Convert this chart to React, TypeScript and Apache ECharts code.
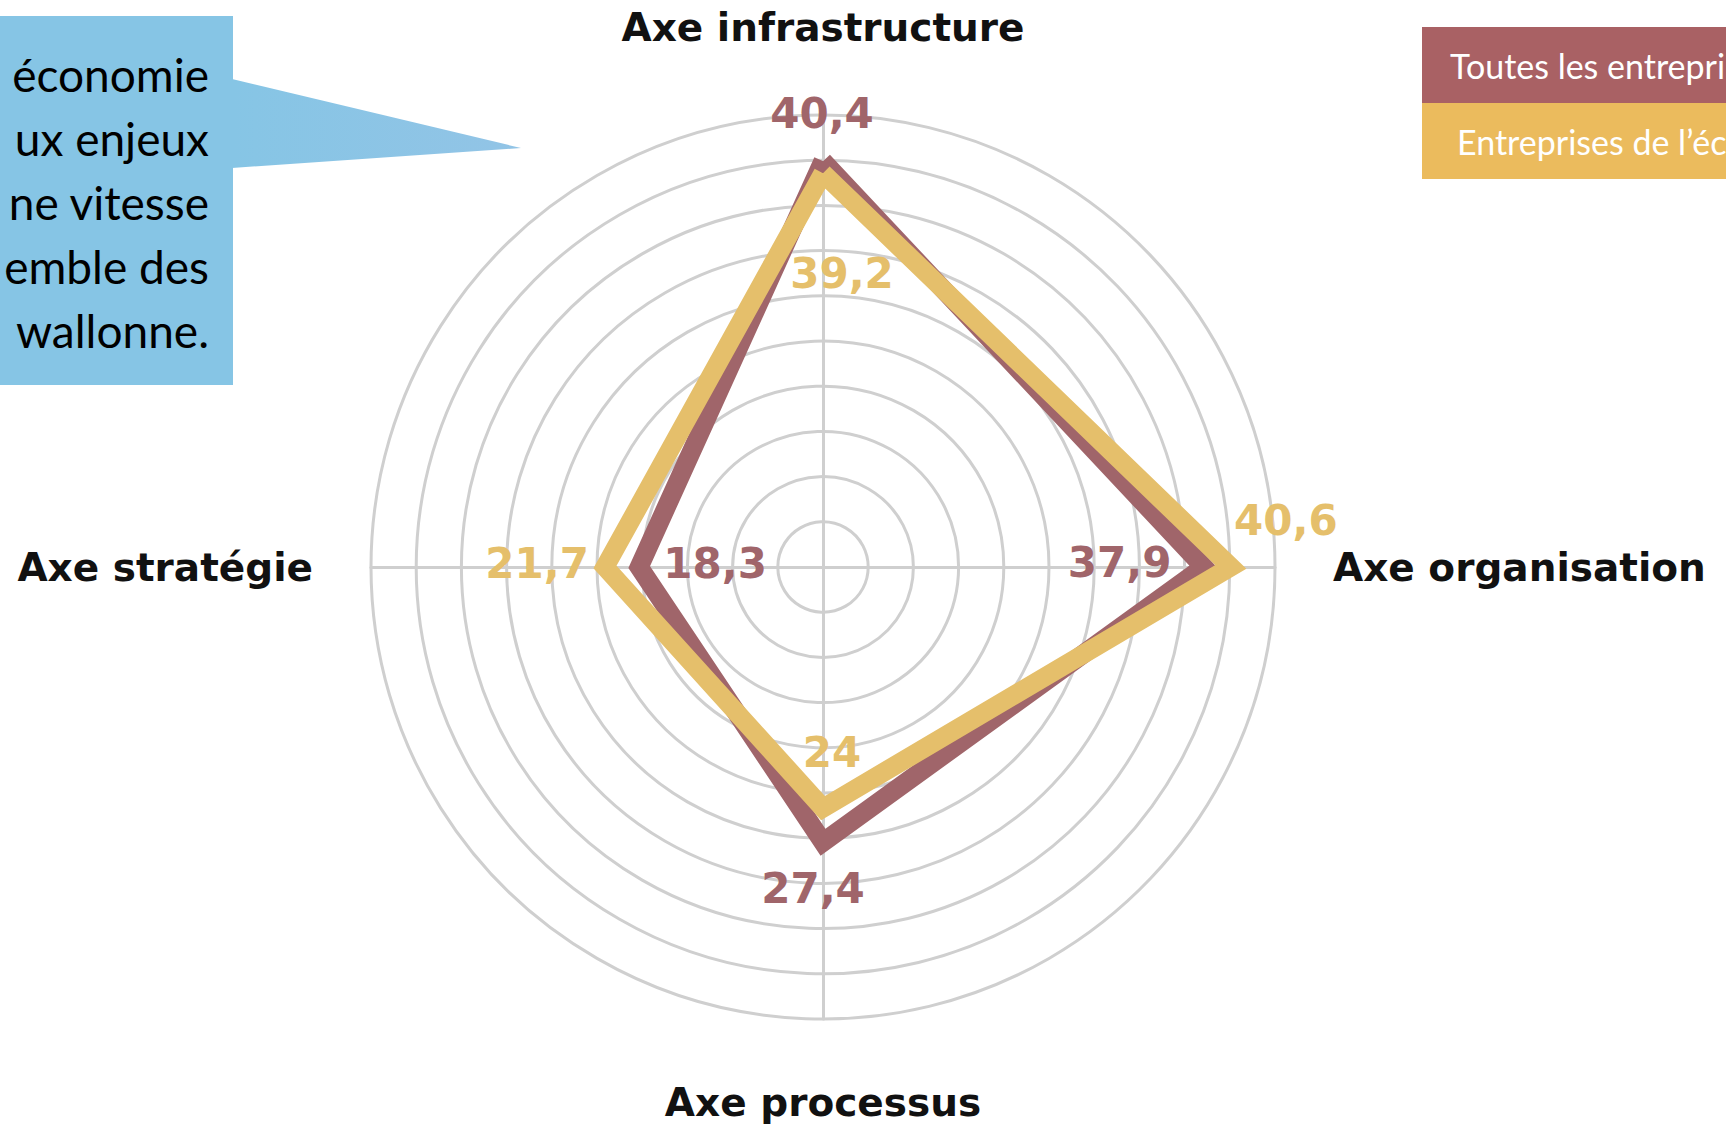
import React, { useEffect, useRef } from "react";
import * as echarts from "echarts";

// ---- data ----
const indicatorNames = ["Axe infrastructure", "Axe stratégie", "Axe processus", "Axe organisation"];
const axisMax = 45;
const allCompanies = [40.4, 18.3, 27.4, 37.9];
const digitalEconomy = [39.2, 21.7, 24, 40.6];
const seriesNames = ["Toutes les entreprises", "Entreprises de l’économie numérique"];
const calloutLines = ["économie", "ux enjeux", "ne vitesse", "emble des", "wallonne."];

// label offsets (style only) per indicator, relative to each vertex
const allLabelOffsets = [[-1, -48], [76, -4], [-10, 46], [-84, -5]];
const ecoLabelOffsets = [[19, 100], [-68, -4], [9, -56], [55, -47]];

const DARK = "#a0656a";
const GOLD = "#e5bf6b";
const DARK_BOX = "#a96164";
const GOLD_BOX = "#ebbb5d";
const GRID = "#cfcfcf";

const fmt = (v: number) => String(v).replace(".", ",");

export default function App() {
  const ref = useRef<HTMLDivElement>(null);
  useEffect(() => {
    if (!ref.current) return;
    const chart = echarts.init(ref.current, null, { renderer: "svg" });

    const nameFont = { fontFamily: "DejaVu Sans", fontWeight: "bold", fontSize: 39, color: "#111" };

    const labelItems = (values: number[], offsets: number[][], color: string) =>
      values.map((v, d) => ({
        value: values,
        symbol: "circle",
        symbolSize: 1,
        itemStyle: { color: "transparent" },
        lineStyle: { width: 0, opacity: 0 },
        label: {
          show: true,
          position: "inside",
          offset: offsets[d],
          color,
          fontFamily: "DejaVu Sans",
          fontWeight: "bold",
          fontSize: 42,
          formatter: (p: any) => {
            const idx = p.dimensionIndex != null ? p.dimensionIndex : values.indexOf(p.value);
            return idx === d ? fmt(values[d]) : "";
          },
        },
      }));

    const legendText = (bg: string, padLeft: number) => ({
      color: "#ffffff",
      fontFamily: "Lato",
      fontSize: 34,
      lineHeight: 36,
      backgroundColor: bg,
      padding: [20, 0, 20, padLeft],
      width: 420,
    });

    const option: any = {
      animation: false,
      backgroundColor: "#ffffff",
      legend: {
        orient: "vertical",
        left: 1417,
        top: 27,
        padding: 0,
        itemGap: 0,
        itemWidth: 0,
        itemHeight: 0,
        icon: "rect",
        selectedMode: false,
        data: [
          { name: seriesNames[0], textStyle: legendText(DARK_BOX, 28) },
          { name: seriesNames[1], textStyle: legendText(GOLD_BOX, 35) },
        ],
      },
      radar: {
        center: [823, 567],
        radius: 452,
        startAngle: 90,
        shape: "circle",
        splitNumber: 10,
        nameGap: 58,
        indicator: indicatorNames.map((n) => ({ name: n, min: 0, max: axisMax })),
        axisName: {
          ...nameFont,
          formatter: (name: string) => {
            const key = name === indicatorNames[0] ? "t" : name === indicatorNames[2] ? "b" : "n";
            return `{${key}|${name}}`;
          },
          rich: {
            t: { ...nameFont, padding: [0, 0, 10, 0] },
            b: { ...nameFont, padding: [6, 0, 0, 0] },
            n: { ...nameFont },
          },
        },
        axisLine: { lineStyle: { color: GRID, width: 3 } },
        splitLine: { lineStyle: { color: GRID, width: 3 } },
        splitArea: { show: false },
        axisTick: { show: false },
        axisLabel: { show: false },
      },
      graphic: [
        { type: "rect", shape: { x: 0, y: 16, width: 233, height: 369 }, style: { fill: "#86c5e5" } },
        {
          type: "polygon",
          shape: { points: [[232, 79], [521, 148], [232, 168]] },
          style: {
            fill: new echarts.graphic.LinearGradient(0, 0, 1, 0, [
              { offset: 0, color: "#86c5e5" },
              { offset: 1, color: "#92c4e6" },
            ]),
          },
        },
        ...calloutLines.map((t, i) => ({
          type: "text",
          x: 209,
          y: 74 + i * 64,
          style: {
            text: t,
            fill: "#000000",
            font: "46px Lato",
            textAlign: "right",
            textVerticalAlign: "middle",
          },
        })),
      ],
      series: [
        {
          name: seriesNames[0],
          type: "radar",
          z: 2,
          symbol: "none",
          itemStyle: { color: DARK_BOX },
          lineStyle: { color: DARK, width: 19, join: "miter", miterLimit: 20 },
          data: [{ value: allCompanies, name: seriesNames[0] }],
        },
        {
          name: seriesNames[1],
          type: "radar",
          z: 3,
          symbol: "none",
          itemStyle: { color: GOLD_BOX },
          lineStyle: { color: GOLD, width: 19, join: "miter", miterLimit: 20 },
          data: [{ value: digitalEconomy, name: seriesNames[1] }],
        },
        {
          name: "labels",
          type: "radar",
          z: 4,
          silent: true,
          data: [
            ...labelItems(allCompanies, allLabelOffsets, DARK),
            ...labelItems(digitalEconomy, ecoLabelOffsets, GOLD),
          ],
        },
      ],
    };
    chart.setOption(option);
    return () => chart.dispose();
  }, []);
  return (
    <div
      ref={ref}
      style={{ position: "fixed", left: 0, top: 0, width: 1726, height: 1125, background: "#fff" }}
    />
  );
}
